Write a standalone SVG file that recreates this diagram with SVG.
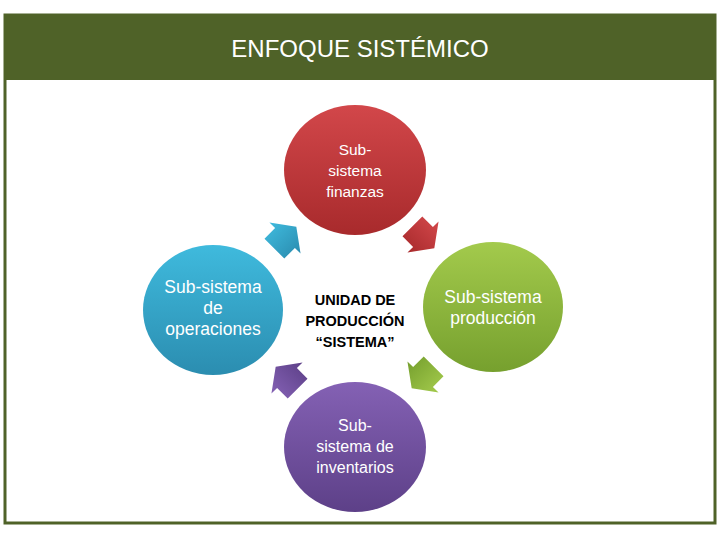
<svg xmlns="http://www.w3.org/2000/svg" width="720" height="540" viewBox="0 0 720 540">
<defs>
<style>
.t{font-family:"Liberation Sans",Arial,sans-serif;fill:#fff;text-anchor:middle}
.c{font-family:"Liberation Sans",Arial,sans-serif;fill:#000;font-weight:bold;font-size:14.5px;text-anchor:middle}
.title{font-family:"Liberation Sans",Arial,sans-serif;fill:#fff;font-size:24px;text-anchor:middle}
</style>
<linearGradient id="gRed" x1="0" y1="0" x2="0" y2="1"><stop offset="0" stop-color="#d2474a"/><stop offset="1" stop-color="#a82a2c"/></linearGradient>
<linearGradient id="gBlue" x1="0" y1="0" x2="0" y2="1"><stop offset="0" stop-color="#3fbadd"/><stop offset="1" stop-color="#2b8db0"/></linearGradient>
<linearGradient id="gGreen" x1="0" y1="0" x2="0" y2="1"><stop offset="0" stop-color="#a3ca4c"/><stop offset="1" stop-color="#76a02e"/></linearGradient>
<linearGradient id="gPurple" x1="0" y1="0" x2="0" y2="1"><stop offset="0" stop-color="#8461b4"/><stop offset="1" stop-color="#5d4088"/></linearGradient>
<polygon id="arr" points="-15,-14 0,-14 0,-22 16,0 0,22 0,14 -15,14"/>
</defs>
<rect x="0" y="0" width="720" height="540" fill="#fff"/>
<g id="frame">
<rect x="5" y="15" width="710" height="508" fill="#fff" stroke="#4f6228" stroke-width="3"/>
<rect x="5" y="15" width="710" height="65" fill="#4f6228"/>
<text class="title" x="360" y="57">ENFOQUE SISTÉMICO</text>
</g>
<g id="connectors">
<use href="#arr" fill="url(#gBlue)" transform="translate(285,238) rotate(-45)"/>
<use href="#arr" fill="url(#gRed)" transform="translate(423,237) rotate(45)"/>
<use href="#arr" fill="url(#gGreen)" transform="translate(423,377) rotate(135)"/>
<use href="#arr" fill="url(#gPurple)" transform="translate(287,378) rotate(-135)"/>
</g>
<g id="finanzas">
<ellipse cx="355" cy="170" rx="71" ry="65" fill="url(#gRed)"/>
<text class="t" style="font-size:15.5px"><tspan x="355" y="155">Sub-</tspan><tspan x="355" y="176">sistema</tspan><tspan x="355" y="197">finanzas</tspan></text>
</g>
<g id="operaciones">
<ellipse cx="213" cy="310" rx="70" ry="65" fill="url(#gBlue)"/>
<text class="t" style="font-size:17.5px"><tspan x="213" y="293">Sub-sistema</tspan><tspan x="213" y="314">de</tspan><tspan x="213" y="335">operaciones</tspan></text>
</g>
<g id="produccion">
<ellipse cx="493" cy="307" rx="70" ry="65" fill="url(#gGreen)"/>
<text class="t" style="font-size:17.5px"><tspan x="493" y="303">Sub-sistema</tspan><tspan x="493" y="324">producción</tspan></text>
</g>
<g id="inventarios">
<ellipse cx="355" cy="447" rx="71" ry="65" fill="url(#gPurple)"/>
<text class="t" style="font-size:16px"><tspan x="355" y="431">Sub-</tspan><tspan x="355" y="452">sistema de</tspan><tspan x="355" y="473">inventarios</tspan></text>
</g>
<g id="unidad">
<text class="c"><tspan x="355" y="305">UNIDAD DE</tspan><tspan x="355" y="326">PRODUCCIÓN</tspan><tspan x="355" y="347">“SISTEMA”</tspan></text>
</g>
</svg>
